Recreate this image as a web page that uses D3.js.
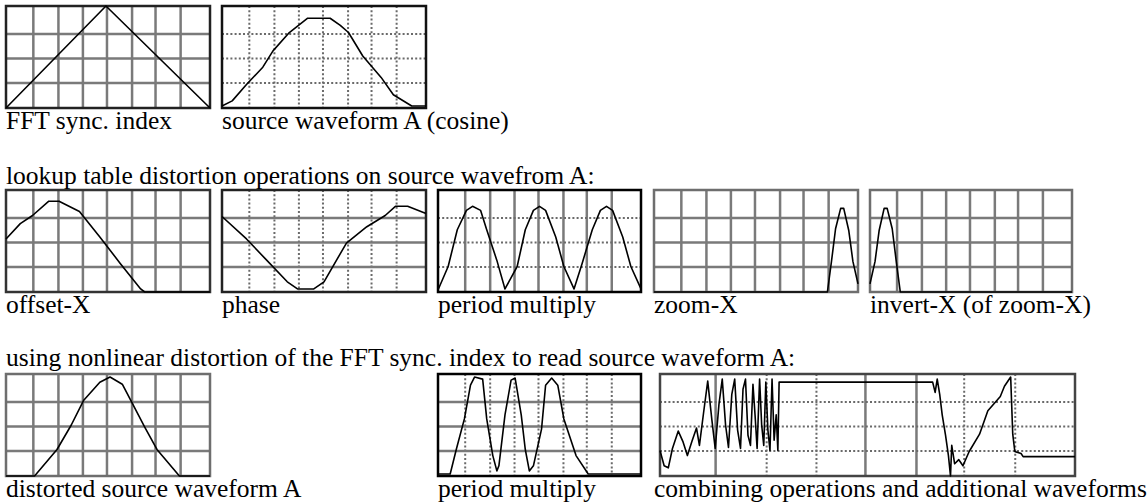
<!DOCTYPE html>
<html>
<head>
<meta charset="utf-8">
<script src="https://cdn.jsdelivr.net/npm/d3@7"></script>
<style>
  body { margin: 0; background: #fff; }
  svg text { font-family: "Liberation Serif", "Times New Roman", serif; font-size: 25.5px; fill: #000; }
</style>
</head>
<body>
<script>
// waveform values: [x, y], both 0..1
var syncIndex = [[0,0],[0.49,1],[1,0]];
var sourceA = [[0,0.02],[0.05,0.07],[0.12,0.23],[0.2,0.4],[0.25,0.56],[0.33,0.74],[0.42,0.88],
  [0.53,0.88],[0.58,0.81],[0.62,0.74],[0.69,0.51],[0.78,0.3],[0.84,0.13],[0.93,0.02],[1,0.02]];
var offsetX = [[0,0.52],[0.07,0.67],[0.13,0.75],[0.21,0.89],[0.26,0.89],[0.36,0.79],[0.46,0.54],
  [0.56,0.28],[0.66,0.03],[0.68,0],[1,0]];
var phaseA = [[0,0.74],[0.12,0.52],[0.22,0.31],[0.32,0.1],[0.37,0.03],[0.45,0.03],[0.5,0.1],
  [0.61,0.48],[0.71,0.64],[0.8,0.75],[0.85,0.84],[0.91,0.84],[1,0.77]];
var periodMul = [[0,0.02],[0.05,0.25],[0.095,0.61],[0.14,0.8],[0.17,0.84],[0.21,0.8],[0.24,0.61],
  [0.29,0.31],[0.33,0.03],[0.39,0.25],[0.43,0.61],[0.47,0.8],[0.5,0.84],[0.53,0.8],[0.58,0.54],
  [0.62,0.25],[0.67,0.03],[0.71,0.28],[0.76,0.61],[0.8,0.8],[0.83,0.84],[0.86,0.8],[0.91,0.54],
  [0.95,0.25],[1,0.03]];
var zoomX = [[0,0],[0.85,0],[0.87,0.3],[0.89,0.62],[0.915,0.82],[0.93,0.82],[0.955,0.6],[0.975,0.3],[1,0.08]];
var invertX = [[0,0.08],[0.025,0.3],[0.045,0.6],[0.07,0.82],[0.085,0.82],[0.11,0.62],[0.13,0.3],[0.15,0],[1,0]];
var distortedA = [[0,0],[0.14,0],[0.25,0.26],[0.32,0.5],[0.38,0.74],[0.46,0.92],[0.51,0.97],[0.57,0.9],
  [0.62,0.71],[0.68,0.48],[0.74,0.26],[0.85,0],[1,0]];
var periodMul2 = [[0,0.02],[0.06,0.02],[0.09,0.26],[0.13,0.56],[0.16,0.89],[0.18,0.97],[0.22,0.95],
  [0.24,0.56],[0.27,0.2],[0.29,0.05],[0.3,0.1],[0.33,0.6],[0.36,0.94],[0.38,0.96],[0.41,0.6],
  [0.43,0.26],[0.45,0.05],[0.47,0.1],[0.51,0.46],[0.53,0.89],[0.56,0.96],[0.59,0.89],[0.62,0.56],
  [0.68,0.2],[0.74,0.02],[1,0.02]];
var combined = [[0,0.25],[0.01,0.1],[0.02,0.08],[0.03,0.27],[0.044,0.44],[0.055,0.34],[0.066,0.2],
  [0.077,0.34],[0.088,0.47],[0.095,0.3],[0.105,0.62],[0.115,0.93],[0.125,0.55],[0.133,0.27],
  [0.142,0.7],[0.15,0.95],[0.158,0.5],[0.165,0.28],[0.173,0.8],[0.18,0.95],[0.187,0.45],
  [0.194,0.27],[0.2,0.85],[0.206,0.95],[0.212,0.4],[0.218,0.3],[0.224,0.9],[0.229,0.6],
  [0.234,0.27],[0.24,0.95],[0.245,0.5],[0.25,0.3],[0.255,0.92],[0.26,0.45],[0.265,0.25],
  [0.27,0.95],[0.275,0.35],[0.28,0.6],[0.284,0.25],[0.287,0.92],[0.657,0.92],[0.663,0.82],
  [0.668,0.95],[0.674,0.8],[0.68,0.6],[0.688,0.4],[0.695,0.2],[0.7,0],[0.703,0.3],[0.71,0.12],
  [0.72,0.16],[0.73,0.1],[0.745,0.24],[0.77,0.41],[0.79,0.64],[0.82,0.78],[0.83,0.88],
  [0.845,0.97],[0.85,0.41],[0.855,0.24],[0.87,0.22],[0.875,0.19],[1,0.19]];

var headings = ["lookup table distortion operations on source wavefrom A:",
  "using nonlinear distortion of the FFT sync. index to read source waveform A:"];
var captions = ["FFT sync. index", "source waveform A (cosine)",
  "offset-X", "phase", "period multiply", "zoom-X", "invert-X (of zoom-X)",
  "distorted source waveform A", "period multiply", "combining operations and additional waveforms"];

// scope graticule positions (fractions of the screen)
var vGrid = [0.134, 0.257, 0.377, 0.495, 0.618, 0.733, 0.856];
var hGrid = [0.245, 0.485, 0.725];

var S = "s", D = "d";
var allS = [S,S,S,S,S,S,S], allD = [D,D,D,D,D,D,D];

var rowTop = [6, 190, 374], panelH = 102;
var panels = [
  {row:0, x:6,   w:204, tx:6,   data:syncIndex,  v:allS, h:S, frame:"#222"},
  {row:0, x:222, w:204, tx:222, data:sourceA,    v:allD, h:D, frame:"#111"},
  {row:1, x:6,   w:204, tx:6,   data:offsetX,    v:allS, h:S, frame:"#333"},
  {row:1, x:222, w:204, tx:222, data:phaseA,     v:allD, h:S, frame:"#222"},
  {row:1, x:438, w:203, tx:438, data:periodMul,  v:allS, h:D, frame:"#000"},
  {row:1, x:654, w:204, tx:654, data:zoomX,      v:allS, h:S, frame:"#6e6e6e"},
  {row:1, x:870, w:202, tx:870, data:invertX,    v:allS, h:S, frame:"#6e6e6e"},
  {row:2, x:6,   w:204, tx:6,   data:distortedA, v:allS, h:S, frame:"#6e6e6e"},
  {row:2, x:438, w:203, tx:438, data:periodMul2, v:allD, h:S, frame:"#000"},
  {row:2, x:660, w:415, tx:654, data:combined,   v:[S,D,D,S,S,D,D], h:D, frame:"#444"}
];

var svg = d3.select("body").append("svg")
    .attr("width", 1147).attr("height", 503);

function gridStyle(sel, kind) {
  sel.attr("stroke", kind == S ? "#7a7a7a" : "#6a6a6a")
     .attr("stroke-width", kind == S ? 2.5 : 2)
     .attr("stroke-dasharray", kind == S ? null : "2,2.2");
}

panels.forEach(function(p, i){
  var top = rowTop[p.row];
  var g = svg.append("g").attr("transform", "translate(" + p.x + "," + top + ")");
  var x = d3.scaleLinear().domain([0,1]).range([0, p.w]),
      y = d3.scaleLinear().domain([0,1]).range([panelH, 0]);

  vGrid.forEach(function(v, k){
    g.append("line")
      .attr("x1", x(v)).attr("x2", x(v))
      .attr("y1", 0).attr("y2", panelH)
      .call(gridStyle, p.v[k]);
  });
  hGrid.forEach(function(v){
    g.append("line")
      .attr("x1", 0).attr("x2", p.w)
      .attr("y1", y(v)).attr("y2", y(v))
      .call(gridStyle, p.h);
  });

  g.append("rect").attr("width", p.w).attr("height", panelH)
    .attr("fill", "none").attr("stroke", p.frame).attr("stroke-width", 2.5);

  var line = d3.line().x(function(d){ return x(d[0]); }).y(function(d){ return y(d[1]); });
  g.append("path").attr("d", line(p.data))
    .attr("fill", "none").attr("stroke", "#000").attr("stroke-width", 1.6)
    .attr("stroke-linejoin", "round");

  svg.append("text").attr("x", p.tx).attr("y", top + panelH + 21).text(captions[i]);
});

svg.append("text").attr("x", 6).attr("y", rowTop[1] - 6).text(headings[0]);
svg.append("text").attr("x", 6).attr("y", rowTop[2] - 8).text(headings[1]);
</script>
</body>
</html>
